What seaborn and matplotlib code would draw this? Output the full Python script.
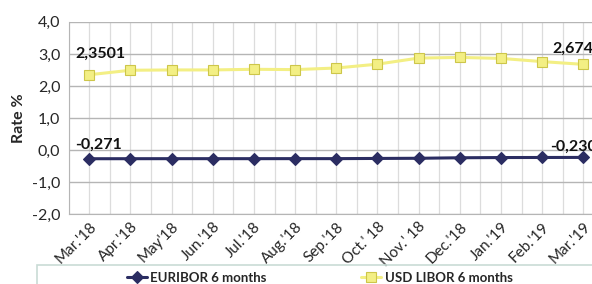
import numpy as np
import pandas as pd
import matplotlib
matplotlib.use("Agg")
import matplotlib.pyplot as plt
import seaborn as sns
from matplotlib.patches import Rectangle
from matplotlib.ticker import FuncFormatter, MultipleLocator

# data
months = ["Mar.'18", "Apr.'18", "May'18", "Jun.'18", "Jul.'18", "Aug.'18", "Sep.'18",
          "Oct.' 18", "Nov.' 18", "Dec.'18", "Jan.'19", "Feb.'19", "Mar.'19"]
euribor = [-0.271, -0.270, -0.269, -0.269, -0.269, -0.268, -0.268,
           -0.262, -0.257, -0.241, -0.234, -0.232, -0.230]
usd_libor = [2.3501, 2.49, 2.50, 2.50, 2.52, 2.51, 2.56,
             2.68, 2.87, 2.89, 2.86, 2.76, 2.674]

df = pd.DataFrame({
    "month": months * 2,
    "pos": list(range(len(months))) * 2,
    "rate": euribor + usd_libor,
    "series": ["EURIBOR 6 months"] * len(months) + ["USD LIBOR 6 months"] * len(months),
})

sns.set_style("white")
plt.rcParams["font.family"] = ["Lato", "DejaVu Sans"]

fig = plt.figure(figsize=(5.92, 2.84), dpi=100)
ax = fig.add_axes([0.116, 0.246, 0.904, 0.677])

colors = {"EURIBOR 6 months": "#2b2d62", "USD LIBOR 6 months": "#f3ef84"}
markers = {"EURIBOR 6 months": "D", "USD LIBOR 6 months": "s"}
for name, sub in df.groupby("series"):
    edge = "#2b2d62" if name.startswith("EUR") else "#cdc64a"
    sns.lineplot(data=sub, x="pos", y="rate", ax=ax, color=colors[name],
                 marker=markers[name], markersize=6 if name.startswith("EUR") else 7.5,
                 markeredgecolor=edge, markeredgewidth=0.8, linewidth=2.2,
                 label=name, legend=False, zorder=3)

ax.set_xlim(-0.5, len(months) - 0.5)
ax.set_ylim(-2.0, 4.0)
ax.yaxis.set_major_locator(MultipleLocator(1.0))
ax.yaxis.set_major_formatter(FuncFormatter(lambda v, p: f"{v:.1f}".replace(".", ",")))
ax.set_xticks(range(len(months)))
ax.set_xticks(np.arange(-0.5, len(months), 1.0), minor=True)
ax.set_xticklabels(months, rotation=45, ha="right", rotation_mode="anchor",
                   fontsize=11, color="#262626")
ax.tick_params(axis="y", labelsize=11.5, colors="#262626", length=0, pad=6)
ax.tick_params(axis="x", length=0, pad=4)
ax.tick_params(axis="x", which="minor", length=0)

ax.grid(axis="y", color="#b5b5b5", linewidth=1.0)
ax.grid(axis="x", which="both", color="#dcdcdc", linewidth=0.9)
ax.set_axisbelow(True)
for s in ["top", "right"]:
    ax.spines[s].set_visible(False)
ax.spines["left"].set_color("#b5b5b5")
ax.spines["bottom"].set_color("#b5b5b5")

ax.set_xlabel("")
ax.set_ylabel("Rate %", fontsize=11.5, fontweight="bold", labelpad=4)

# value labels at both ends
lab = lambda v, d: f"{v:.{d}f}".replace(".", ",")
end = len(months) - 1
for txt, xy, off in [
    (lab(usd_libor[0], 4), (0, usd_libor[0]), (-10, 15)),
    (lab(usd_libor[-1], 3), (end, usd_libor[-1]), (-22, 11)),
    (lab(euribor[0], 3), (0, euribor[0]), (-10, 10)),
    (lab(euribor[-1], 3), (end, euribor[-1]), (-24, 7.5)),
]:
    ax.annotate(txt, xy, xytext=off, textcoords="offset points", ha="left",
                va="center", fontsize=11.5, fontweight="bold", color="#111111",
                annotation_clip=False)

# legend box below the chart
fig.patches.append(Rectangle((37 / 592, -0.1), 0.96, (284 - 265) / 284 + 0.1,
                             transform=fig.transFigure, fill=False,
                             edgecolor="#c9dcd6", linewidth=1.2))
handles, labels = ax.get_legend_handles_labels()
fig.legend(handles, labels, loc="center", bbox_to_anchor=(0.540, 0.021), ncol=2,
           frameon=False, columnspacing=7.2, handlelength=1.5, handletextpad=0.25,
           borderpad=0, prop={"weight": "bold", "size": 9.5})

fig.savefig("out.png", dpi=100)
